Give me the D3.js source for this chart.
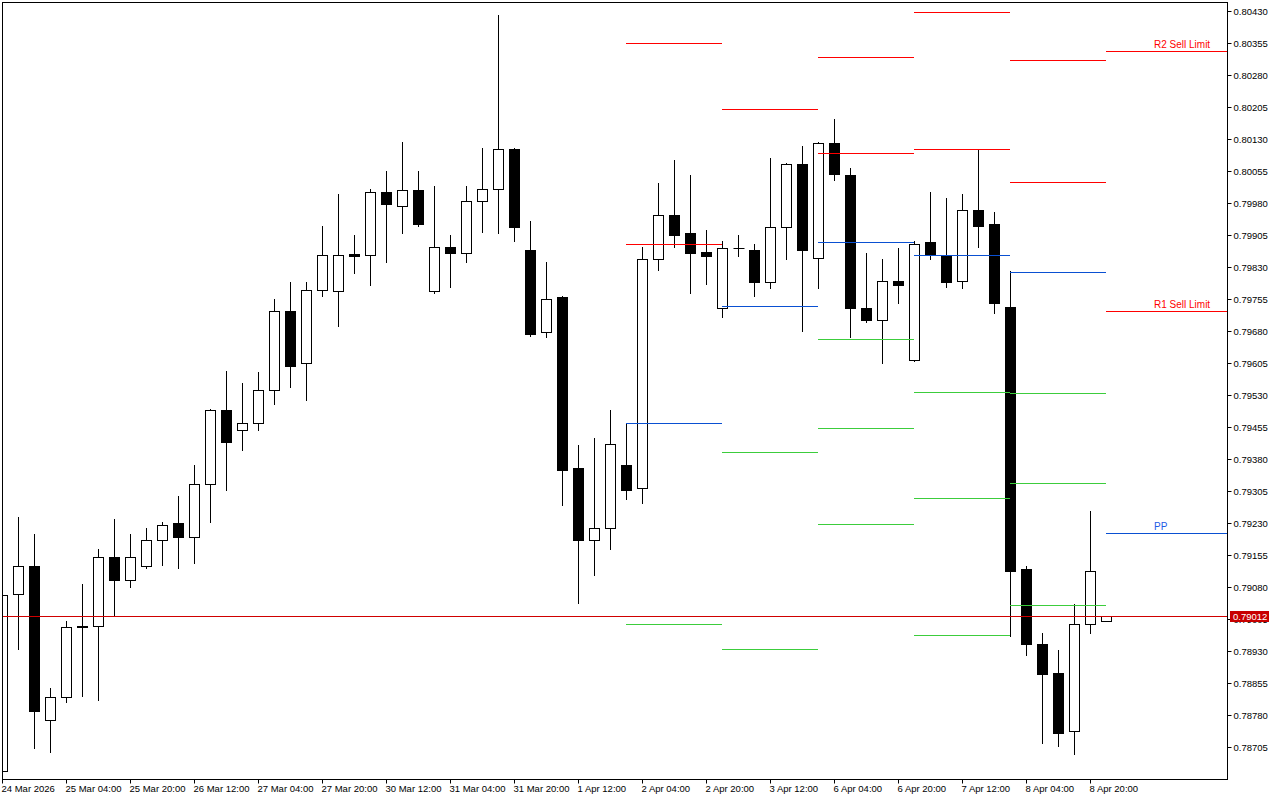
<!DOCTYPE html>
<html><head><meta charset="utf-8">
<script src="https://cdn.jsdelivr.net/npm/d3@7"></script>
<style>
html,body{margin:0;padding:0;background:#fff;}
svg{display:block;}
text{font-family:"Liberation Sans",Arial,sans-serif;}
</style></head>
<body>
<svg id="chart" width="1280" height="800"></svg>
<script>
// ---- data ----
const timeLabels = ["24 Mar 2026","25 Mar 04:00","25 Mar 20:00","26 Mar 12:00","27 Mar 04:00","27 Mar 20:00","30 Mar 12:00","31 Mar 04:00","31 Mar 20:00","1 Apr 12:00","2 Apr 04:00","2 Apr 20:00","3 Apr 12:00","6 Apr 04:00","6 Apr 20:00","7 Apr 12:00","8 Apr 04:00","8 Apr 20:00"];
const priceTicks = [0.80430,0.80355,0.80280,0.80205,0.80130,0.80055,0.79980,0.79905,0.79830,0.79755,0.79680,0.79605,0.79530,0.79455,0.79380,0.79305,0.79230,0.79155,0.79080,0.79005,0.78930,0.78855,0.78780,0.78705];
const opens  = [0.78649,0.79064,0.79128,0.78767,0.78821,0.78989,0.78989,0.79151,0.79097,0.79128,0.79189,0.79229,0.79198,0.79322,0.79494,0.79449,0.79465,0.79541,0.79726,0.79604,0.79777,0.79775,0.79861,0.79859,0.80007,0.79974,0.80010,0.79775,0.79878,0.79864,0.79986,0.80014,0.80106,0.79871,0.79677,0.79759,0.79358,0.79189,0.79217,0.79367,0.79313,0.79848,0.79953,0.79909,0.79866,0.79733,0.79874,0.79871,0.79796,0.79923,0.80071,0.79852,0.80122,0.80047,0.79733,0.79705,0.79798,0.79611,0.79888,0.79859,0.79798,0.79963,0.79930,0.79737,0.79123,0.78945,0.78877,0.78741,0.78992,0.78999];
const highs  = [0.79074,0.79243,0.79203,0.78842,0.78999,0.79086,0.79168,0.79240,0.79205,0.79219,0.79233,0.79292,0.79365,0.79498,0.79587,0.79557,0.79585,0.79754,0.79796,0.79794,0.79927,0.80002,0.79906,0.80014,0.80056,0.80124,0.80056,0.80021,0.79906,0.80019,0.80110,0.80422,0.80110,0.79937,0.79841,0.79761,0.79412,0.79428,0.79494,0.79465,0.79878,0.80026,0.80082,0.80045,0.79916,0.79892,0.79906,0.79885,0.80085,0.80075,0.80115,0.80124,0.80178,0.80063,0.79864,0.79850,0.79874,0.79890,0.80007,0.79991,0.80002,0.80106,0.79960,0.79820,0.79128,0.78973,0.78933,0.79041,0.79259,0.79012];
const lows   = [0.78640,0.78935,0.78703,0.78692,0.78809,0.78825,0.78814,0.79013,0.79079,0.79125,0.79132,0.79125,0.79135,0.79233,0.79308,0.79402,0.79447,0.79508,0.79548,0.79519,0.79763,0.79691,0.79817,0.79787,0.79841,0.79909,0.79927,0.79770,0.79784,0.79843,0.79913,0.79909,0.79890,0.79669,0.79667,0.79271,0.79043,0.79107,0.79170,0.79285,0.79276,0.79822,0.79878,0.79768,0.79791,0.79712,0.79857,0.79763,0.79782,0.79850,0.79679,0.79782,0.80033,0.79665,0.79700,0.79606,0.79745,0.79609,0.79850,0.79784,0.79782,0.79878,0.79723,0.78966,0.78921,0.78713,0.78706,0.78687,0.78971,0.78999];
const closes = [0.79062,0.79128,0.78790,0.78821,0.78987,0.78986,0.79151,0.79097,0.79149,0.79189,0.79226,0.79198,0.79322,0.79494,0.79419,0.79465,0.79541,0.79728,0.79599,0.79777,0.79859,0.79859,0.79857,0.80007,0.79979,0.80010,0.79932,0.79878,0.79862,0.79986,0.80014,0.80106,0.79923,0.79674,0.79756,0.79355,0.79191,0.79217,0.79414,0.79308,0.79848,0.79953,0.79906,0.79864,0.79857,0.79874,0.79874,0.79794,0.79925,0.80071,0.79869,0.80122,0.80049,0.79733,0.79707,0.79798,0.79787,0.79885,0.79859,0.79796,0.79963,0.79927,0.79745,0.79118,0.78945,0.78875,0.78738,0.78994,0.79118,0.79012];
// daily pivot levels (start bar index of each day), null = outside the visible range
const pivotStart = [39,45,51,57,63,69];
const pivotR2 = [0.80356,null,0.80323,0.80429,0.80316,0.80337];
const pivotR1 = [0.79885,0.80201,0.80098,0.80107,0.80030,0.79727];
const pivotPP = [0.79465,0.79739,0.79889,0.79859,0.79819,0.79207];
const pivotS1 = [0.78993,0.79397,0.79662,0.79537,0.79535,null];
const pivotS2 = [null,0.78935,0.79453,0.79289,0.79324,null];
const pivotS3 = [null,null,0.79228,0.78968,0.79038,null];
const lastDayLabels = {R2:"R2 Sell Limit", R1:"R1 Sell Limit", PP:"PP"};
const bidPrice = 0.79012;

// ---- layout ----
const W = 1280, H = 800;
const L = 2, T = 2, R = 1227, B = 779;
const svg = d3.select("#chart");
const x = d3.scaleLinear().domain([0, 69]).range([2.5, 1106.5]);
const y = d3.scaleLinear().domain([0.786307, 0.804527]).range([B, T]);
const py = v => Math.floor(y(v)) + 0.5;

svg.append("rect").attr("width", W).attr("height", H).attr("fill", "#fff");
svg.append("defs").append("clipPath").attr("id","clip")
  .append("rect").attr("x", L+0.5).attr("y", T+0.5).attr("width", R-L-0.5).attr("height", B-T-0.5);

const plot = svg.append("g").attr("clip-path","url(#clip)");

// candles
const bars = d3.range(opens.length).map(i => ({i, o:opens[i], h:highs[i], l:lows[i], c:closes[i]}));
const cg = plot.append("g");
bars.forEach(d => {
  const cx = x(d.i);
  cg.append("line").attr("x1", cx).attr("x2", cx)
    .attr("y1", Math.floor(y(d.h))).attr("y2", Math.floor(y(d.l)) + 1)
    .attr("stroke", "#000").attr("stroke-width", 1);
  const top = py(Math.max(d.o, d.c)), bot = py(Math.min(d.o, d.c));
  const bull = d.c >= d.o;
  if (bot - top < 1) {
    cg.append("line").attr("x1", cx - 5).attr("x2", cx + 6).attr("y1", top).attr("y2", top)
      .attr("stroke", "#000").attr("stroke-width", 1);
  } else {
    cg.append("rect").attr("x", cx - 5).attr("y", top).attr("width", 10).attr("height", bot - top)
      .attr("fill", bull ? "#fff" : "#000").attr("stroke", "#000").attr("stroke-width", 1);
  }
});

// bid line
plot.append("line").attr("x1", L).attr("x2", R).attr("y1", py(bidPrice)).attr("y2", py(bidPrice))
  .attr("stroke", "#d00000").attr("stroke-width", 1);

// pivot segments
const RED = "#ff0000", BLUE = "#0a50d2", GREEN = "#3ccd3c";
const levels = [
  {key:"R2", vals:pivotR2, color:RED},
  {key:"R1", vals:pivotR1, color:RED},
  {key:"PP", vals:pivotPP, color:BLUE},
  {key:"S1", vals:pivotS1, color:GREEN},
  {key:"S2", vals:pivotS2, color:GREEN},
  {key:"S3", vals:pivotS3, color:GREEN}
];
const pg = plot.append("g");
levels.forEach(lv => {
  lv.vals.forEach((v, k) => {
    if (v == null) return;
    const x1 = x(pivotStart[k]) - 0.5;
    const x2 = k === pivotStart.length - 1 ? R : x(pivotStart[k + 1]) - 0.5;
    pg.append("line").attr("x1", x1).attr("x2", x2).attr("y1", py(v)).attr("y2", py(v))
      .attr("stroke", lv.color).attr("stroke-width", 1);
    if (k === pivotStart.length - 1 && lastDayLabels[lv.key]) {
      pg.append("text").attr("x", 1154).attr("y", py(v) - 3.5)
        .attr("font-size", "10px").attr("fill", lv.color === BLUE ? "#1e5ae6" : RED)
        .text(lastDayLabels[lv.key]);
    }
  });
});

// frame
svg.append("rect").attr("x", L + 0.5).attr("y", T + 0.5).attr("width", R - L).attr("height", B - T)
  .attr("fill", "none").attr("stroke", "#000").attr("stroke-width", 1);

// right price axis
const yAxis = d3.axisRight(y).tickValues(priceTicks).tickSize(4).tickPadding(2)
  .tickFormat(d3.format(".5f"));
const ya = svg.append("g").attr("transform", `translate(${R + 0.5},0)`).call(yAxis);
ya.select(".domain").remove();
ya.selectAll(".tick").attr("transform", d => `translate(0,${py(d)})`);
ya.selectAll(".tick line").attr("stroke", "#000");
ya.selectAll(".tick text").attr("fill", "#000").attr("font-size", "9.5px")
  .attr("font-family", '"Liberation Sans",Arial,sans-serif');

// bottom time axis
const labelIdx = timeLabels.map((_, k) => k * 4);
const xAxis = d3.axisBottom(x).tickValues(labelIdx).tickSize(4).tickPadding(2)
  .tickFormat((d, k) => timeLabels[k]);
const xa = svg.append("g").attr("transform", `translate(0,${B + 0.5})`).call(xAxis);
xa.select(".domain").remove();
xa.selectAll(".tick").attr("transform", d => `translate(${x(d)},0)`);
xa.selectAll(".tick line").attr("stroke", "#000");
xa.selectAll(".tick text").attr("fill", "#000").attr("font-size", "9.5px")
  .attr("text-anchor", "start").attr("x", -1).attr("y", 12.5).attr("dy", 0)
  .attr("font-family", '"Liberation Sans",Arial,sans-serif');

// bid price label
const bidY = py(bidPrice);
svg.append("rect").attr("x", 1230).attr("y", bidY - 5.5).attr("width", 39).attr("height", 11)
  .attr("fill", "#c80000");
svg.append("text").attr("x", 1233).attr("y", bidY + 3.5).attr("fill", "#fff")
  .attr("font-size", "9.5px").text(d3.format(".5f")(bidPrice));
</script>
</body></html>
